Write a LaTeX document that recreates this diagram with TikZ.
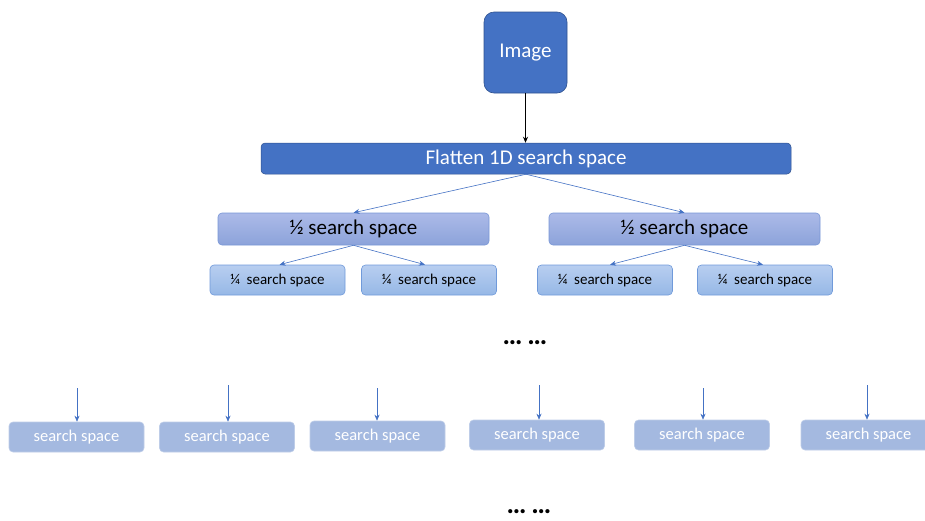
\documentclass[tikz,border=0pt]{standalone}
\usepackage{fontspec}
\setmainfont{Carlito}
\usetikzlibrary{arrows.meta}
\definecolor{dblue}{RGB}{68,114,196}
\definecolor{dborder}{RGB}{47,82,143}
\definecolor{htop}{RGB}{172,186,232}
\definecolor{hbot}{RGB}{140,163,218}
\definecolor{hborder}{RGB}{120,150,214}
\definecolor{qtop}{RGB}{184,206,240}
\definecolor{qbot}{RGB}{150,184,230}
\definecolor{qborder}{RGB}{112,154,218}
\definecolor{sfill}{RGB}{164,185,224}
\definecolor{sborder}{RGB}{190,205,232}
\tikzset{
  imgbox/.style={draw=dborder, line width=0.6pt, fill=dblue, rounded corners=10pt, minimum width=83pt, minimum height=81pt, text=white, font=\fontsize{21}{24}\selectfont, inner sep=0pt},
  flatbox/.style={draw=dborder, line width=0.5pt, fill=dblue, rounded corners=4pt, minimum width=530pt, minimum height=31pt, text=white, font=\fontsize{21}{24}\selectfont, inner sep=0pt},
  halfbox/.style={draw=hborder, line width=0.6pt, top color=htop, bottom color=hbot, rounded corners=4pt, minimum width=271pt, minimum height=32pt, text=black, font=\fontsize{21}{24}\selectfont, inner sep=0pt},
  quarterbox/.style={draw=qborder, line width=0.6pt, top color=qtop, bottom color=qbot, rounded corners=4pt, minimum width=135pt, minimum height=30pt, text=black, font=\fontsize{15}{18}\selectfont, inner sep=0pt},
  ssbox/.style={draw=sborder, line width=0.6pt, fill=sfill, rounded corners=4pt, minimum width=135pt, minimum height=30pt, text=white, font=\fontsize{16.5}{18}\selectfont, inner sep=0pt},
  blk/.style={-{Stealth[length=6pt,width=5pt]}, line width=0.6pt, black},
  blu/.style={-{Stealth[length=6pt,width=5pt]}, line width=0.6pt, dblue},
  dots/.style={font=\fontsize{28}{28}\selectfont\bfseries, inner sep=0pt}
}
\begin{document}
\begin{tikzpicture}[x=1pt,y=-1pt]
\useasboundingbox (0,0) rectangle (925,520);
\begin{scope}
\clip (0,0) rectangle (925,520);
\node[imgbox] (img) at (525.5,52.5) {\raisebox{-1.5pt}{Image}};
\node[flatbox] (flat) at (526,158.5) {Flatten 1D search space};
\node[halfbox] (h1) at (353.5,229) {½ search space};
\node[halfbox] (h2) at (684.5,229) {½ search space};
\node[quarterbox] (q1) at (277.5,280) {¼\ \ search space};
\node[quarterbox] (q2) at (429,280) {¼\ \ search space};
\node[quarterbox] (q3) at (605,280) {¼\ \ search space};
\node[quarterbox] (q4) at (765,280) {¼\ \ search space};
\node[dots] (d1) at (525,343) {…\hspace{5pt}…};
\node[ssbox] (s1) at (76.5,437) {search space};
\node[ssbox] (s2) at (227,437) {search space};
\node[ssbox] (s3) at (377.5,436) {search space};
\node[ssbox] (s4) at (537,435) {search space};
\node[ssbox] (s5) at (702,435) {search space};
\node[ssbox] (s6) at (868.5,435) {search space};
\node[dots] (d2) at (529,512) {…\hspace{5pt}…};
\coordinate (t1) at (77,388);
\coordinate (t2) at (228,385);
\coordinate (t3) at (377,388);
\coordinate (t4) at (539,385);
\coordinate (t5) at (703,388);
\coordinate (t6) at (867,385);
\draw[blk] (img.south) -- (img.south |- flat.north);
\draw[blu] (flat.south) -- (h1.north);
\draw[blu] (flat.south) -- (h2.north);
\draw[blu] (h1.south) -- ([xshift=2pt]q1.north);
\draw[blu] (h1.south) -- ([xshift=-4pt]q2.north);
\draw[blu] (h2.south) -- ([xshift=5pt]q3.north);
\draw[blu] (h2.south) -- ([xshift=-2pt]q4.north);
\draw[blu] (t1) -- (t1 |- s1.north);
\draw[blu] (t2) -- (t2 |- s2.north);
\draw[blu] (t3) -- (t3 |- s3.north);
\draw[blu] (t4) -- (t4 |- s4.north);
\draw[blu] (t5) -- (t5 |- s5.north);
\draw[blu] (t6) -- (t6 |- s6.north);
\end{scope}
\end{tikzpicture}
\end{document}
